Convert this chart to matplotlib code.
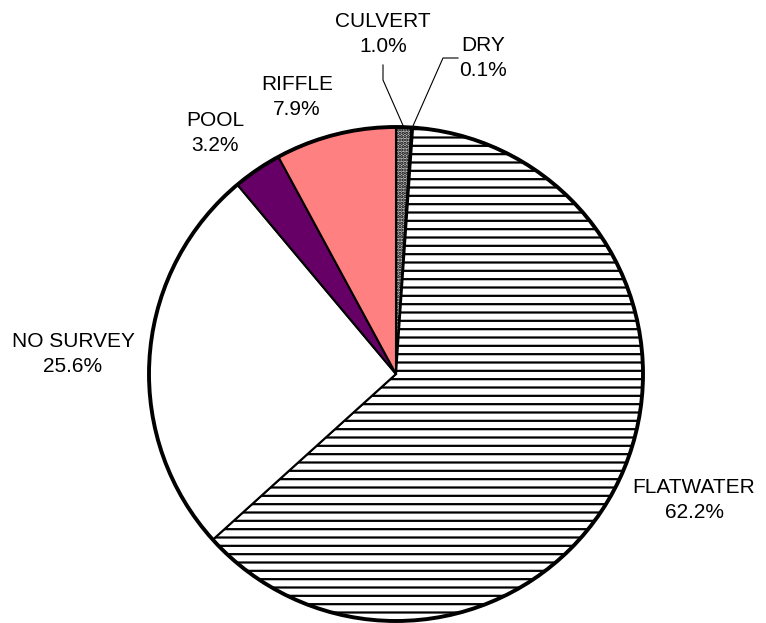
import numpy as np
import matplotlib
matplotlib.use('Agg')
import matplotlib.pyplot as plt
from matplotlib.patches import Circle

plt.rcParams['font.family'] = ['Liberation Sans', 'DejaVu Sans']
plt.rcParams['hatch.linewidth'] = 1.6

# Data
categories = ['CULVERT', 'DRY', 'FLATWATER', 'NO SURVEY', 'POOL', 'RIFFLE']
shares = [1.0, 0.1, 62.2, 25.6, 3.2, 7.9]
colors = ['#c0c0c0', '#000000', '#ffffff', '#ffffff', '#660066', '#ff8080']
hatches = ['.....', None, '--', None, None, None]

# Layout (pixel coordinates from top-left of the 766x623 canvas)
W, H = 766, 623
center = (396, 374)
radius = 247
label_pos = {
    'CULVERT': (383, 34),
    'DRY': (483, 58),
    'RIFFLE': (297, 97),
    'POOL': (215, 133),
    'NO SURVEY': (73, 354),
    'FLATWATER': (694, 500),
}
# leader lines: start point and elbow for the small slices
leaders = {
    'CULVERT': [(383, 65), (383, 80)],
    'DRY': [(458, 58), (443, 58)],
}

fig = plt.figure(figsize=(W / 100, H / 100), dpi=100)
ax = fig.add_axes([0, 0, 1, 1])

wedges, _ = ax.pie(shares, colors=colors, startangle=90, counterclock=False,
                   center=(center[0], H - center[1]), radius=radius,
                   wedgeprops=dict(edgecolor='black', linewidth=1.5))
for w, h in zip(wedges, hatches):
    if h:
        w.set_hatch(h)

# thicker outline around the pie
ax.add_patch(Circle((center[0], H - center[1]), radius, fill=False,
                    edgecolor='black', linewidth=2.8, zorder=5))

for w, name, val in zip(wedges, categories, shares):
    x, y = label_pos[name]
    ax.text(x, H - y, f'{name}\n{val:.1f}%', ha='center', va='center',
            fontsize=15, linespacing=1.45)
    if name in leaders:
        mid = np.deg2rad((w.theta1 + w.theta2) / 2)
        ex = center[0] + radius * np.cos(mid)
        ey = H - center[1] + radius * np.sin(mid)
        pts = [(px, H - py) for px, py in leaders[name]] + [(ex, ey)]
        ax.plot([p[0] for p in pts], [p[1] for p in pts], color='black', lw=0.8)

ax.set_xlim(0, W)
ax.set_ylim(0, H)
ax.set_aspect('equal')
ax.axis('off')

fig.savefig('out.png', dpi=100)
